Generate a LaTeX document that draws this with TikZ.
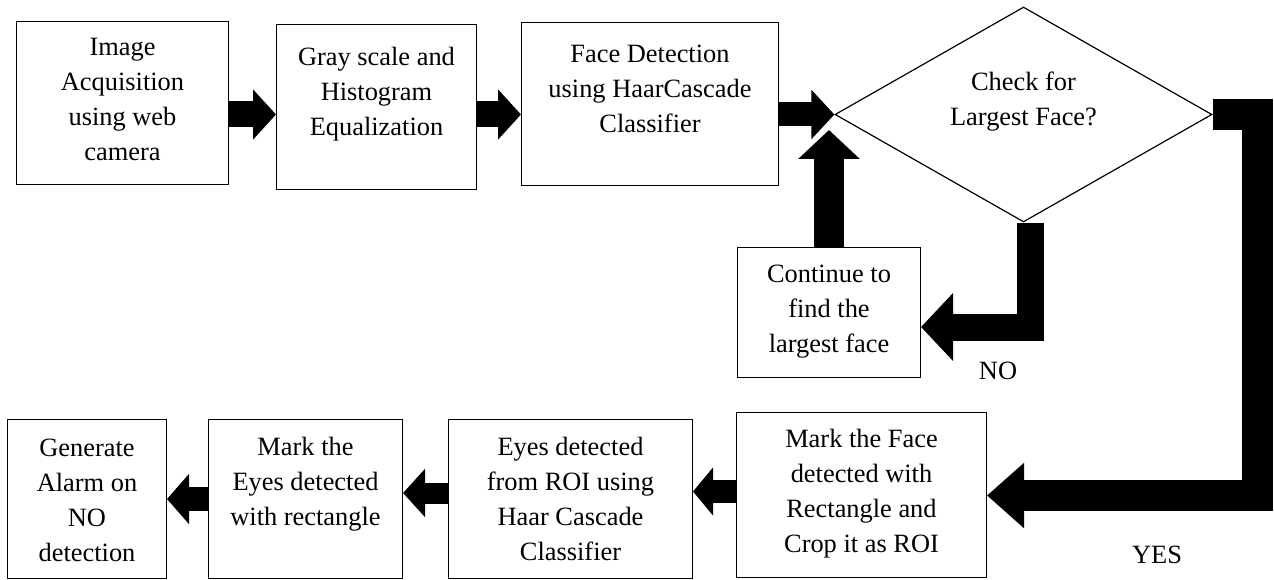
\documentclass[tikz,border=0pt]{standalone}
\usepackage{fontspec}
\setmainfont{Liberation Serif}
\usetikzlibrary{arrows.meta,shapes.geometric,calc}
% box text: width, height, first-baseline offset from the top, lines
\newcommand\boxlines[4]{\parbox[t][#2][t]{#1}{\centering\rule{0pt}{#3}#4}}

\begin{document}
\begin{tikzpicture}[x=1pt,y=-1pt,
  font=\fontsize{26.4}{35}\selectfont,
  stepbox/.style={draw, line width=1pt, inner sep=0pt, anchor=north west},
  fat/.style n args={3}{line width=#1, line join=miter,
    -{Triangle[length=#2,width=#3]}},
]
\useasboundingbox (0,0) rectangle (1274,580);

% ---- top row ----
\node[stepbox] (b1) at (16,21)
  {\boxlines{212pt}{163pt}{34pt}{Image\\Acquisition\\using web\\camera}};
\node[stepbox] (b2) at (276,24)
  {\boxlines{200pt}{165pt}{41pt}{Gray scale and\\Histogram\\Equalization}};
\node[stepbox] (b3) at (521,22)
  {\boxlines{257pt}{163pt}{40pt}{Face Detection\\using HaarCascade\\Classifier}};

% decision
\node[draw, diamond, aspect=1.753, minimum width=377pt, minimum height=215pt,
      inner sep=0pt, line width=1.2pt] (dm) at (1023.5,114.5)
  {\parbox[c][85pt][t]{170pt}{\centering\rule{0pt}{17.5pt}Check for\\Largest Face?}};

\node[stepbox] (cont) at (737,247)
  {\boxlines{183pt}{130pt}{35pt}{Continue to\\find the\\largest face}};

% ---- bottom row ----
\node[stepbox] (b4) at (736,412)
  {\boxlines{250pt}{165pt}{35pt}{Mark the Face\\detected with\\Rectangle and\\Crop it as ROI}};
\node[stepbox] (b5) at (448,419)
  {\boxlines{244pt}{159pt}{36pt}{Eyes detected\\from ROI using\\Haar Cascade\\Classifier}};
\node[stepbox] (b6) at (208,419)
  {\boxlines{194pt}{159pt}{36pt}{Mark the\\Eyes detected\\with rectangle}};
\node[stepbox] (b7) at (7,419)
  {\boxlines{159pt}{159pt}{37pt}{Generate\\Alarm on\\NO\\detection}};

% branch labels
\node (no) at (998,370.5) {NO};
\node (yes) at (1157,555) {YES};

% ---- block arrows ----
\coordinate (upend) at (828.5,130);
\coordinate (nobend) at (1030,327);
\coordinate (yesbend) at (1257,495.5);
\coordinate (r45) at (0,491.5);
\coordinate (r56) at (0,493);
\coordinate (r67) at (0,499);

\draw[fat={26pt}{23pt}{49pt}] (b1.east |- dm.west) -- (b2.west |- dm.west);
\draw[fat={26pt}{23pt}{49pt}] (b2.east |- dm.west) -- (b3.west |- dm.west);
\draw[fat={24pt}{23pt}{48pt}] (b3.east |- dm.west) -- (dm.west);
\draw[fat={30pt}{29pt}{60pt}] (cont.north) -- (cont.north |- upend);
\draw[fat={27pt}{32pt}{66pt}] (nobend |- dm.south) -- (nobend) -- (nobend -| cont.east);
\draw[fat={31pt}{37pt}{63pt}] (dm.east) -- (dm.east -| yesbend) -- (yesbend)
  -- (yesbend -| b4.east);
\draw[fat={23pt}{20pt}{47pt}] (b4.west |- r45) -- (b5.east |- r45);
\draw[fat={21pt}{22pt}{47pt}] (b5.west |- r56) -- (b6.east |- r56);
\draw[fat={24pt}{22pt}{49pt}] (b6.west |- r67) -- (b7.east |- r67);
\end{tikzpicture}
\end{document}
